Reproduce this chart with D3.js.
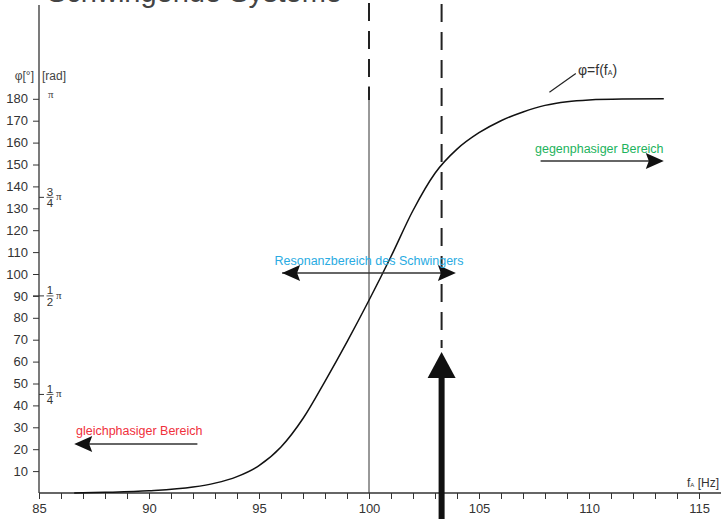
<!DOCTYPE html>
<html>
<head>
<meta charset="utf-8">
<script src="https://d3js.org/d3.v7.min.js"></script>
<style>
    body { margin: 0; background: #fff; }
    svg { display: block; font-family: "Liberation Sans", Arial, sans-serif; }
</style>
</head>
<body>
<div id="chart"></div>
<script>
// phase response
var freqHz   = [86.6, 88, 90, 92, 93, 94, 95, 96, 97, 98, 99, 100, 101, 102, 103, 104, 105, 106, 107, 108, 109, 110, 111.5, 113.4];
var phaseDeg = [0, 0.3, 1, 2.7, 4.5, 7.5, 12.5, 21, 34, 51, 69, 88, 108, 129, 146, 157, 164.5, 170, 174, 177, 178.7, 179.5, 179.9, 180];

var xTickValues = d3.range(85, 116, 1);
var xLabelValues = [85, 90, 95, 100, 105, 110, 115];
var yTickValues = [10, 20, 30, 40, 50, 60, 70, 80, 90, 100, 110, 120, 130, 140, 150, 160, 170, 180];
var radMarks = [
    { deg: 135, num: "3", den: "4" },
    { deg: 90, num: "1", den: "2" },
    { deg: 45, num: "1", den: "4" }
];

var f0 = 100;       // resonance
var fA = 103.3;     // excitation
var resonanceRange = [96.05, 103.95], resonancePhase = 100.5;
var gleichRange = [92.2, 86.6], gleichPhase = 22.4;
var gegenRange = [107.8, 113.4], gegenPhase = 151.6;

var W = 721, H = 519;
var svg = d3.select("#chart").append("svg").attr("width", W).attr("height", H);

var x = d3.scaleLinear().domain([85, 115]).range([39, 699]);
var y = d3.scaleLinear().domain([0, 180]).range([493, 98.8]);
var plotTop = 5;
var ink = "#333";

// title (cut at the top edge)
svg.append("text").attr("x", 47).attr("y", 2)
    .attr("font-size", 29).attr("fill", "#444")
    .text("Schwingende Systeme");

// x axis
var xAxis = svg.append("g").attr("transform", "translate(0," + y(0) + ")")
    .call(d3.axisBottom(x).tickValues(xTickValues).tickSize(6).tickPadding(5)
        .tickFormat(function (d) { return xLabelValues.indexOf(d) >= 0 ? d : ""; }));
xAxis.select(".domain").remove();
xAxis.selectAll("line").attr("stroke", ink);
xAxis.selectAll("text").attr("font-size", 13).attr("fill", ink).attr("font-family", null);
svg.append("line").attr("x1", x(85)).attr("x2", W).attr("y1", y(0)).attr("y2", y(0))
    .attr("stroke", ink).attr("stroke-width", 1.3);

// y axis
var yAxis = svg.append("g").attr("transform", "translate(" + x(85) + ",0)")
    .call(d3.axisLeft(y).tickValues(yTickValues).tickSize(6).tickPadding(5));
yAxis.select(".domain").remove();
yAxis.selectAll("line").attr("stroke", ink);
yAxis.selectAll("text").attr("font-size", 13).attr("fill", ink).attr("font-family", null);
svg.append("line").attr("x1", x(85)).attr("x2", x(85)).attr("y1", plotTop).attr("y2", y(0))
    .attr("stroke", ink).attr("stroke-width", 1.3);

svg.append("text").attr("x", 34).attr("y", 80).attr("text-anchor", "end")
    .attr("font-size", 12).attr("fill", "#444").text("φ[°]");
svg.append("text").attr("x", 42).attr("y", 80)
    .attr("font-size", 12).attr("fill", "#444").text("[rad]");
svg.append("text").attr("x", 48).attr("y", 98)
    .attr("font-size", 11).attr("font-family", "Liberation Serif, serif").attr("fill", "#444").text("π");

// radian fractions
var rad = svg.append("g").selectAll("g").data(radMarks).enter().append("g")
    .attr("transform", function (d) { return "translate(" + x(85) + "," + y(d.deg) + ")"; });
rad.append("line").attr("x1", function (d) { return d.deg === 90 ? -6 : 0; }).attr("x2", 5)
    .attr("stroke", ink);
rad.append("text").attr("x", 11).attr("y", -1.5).attr("text-anchor", "middle")
    .attr("font-size", 11.5).attr("fill", ink).text(function (d) { return d.num; });
rad.append("text").attr("x", 11).attr("y", 10).attr("text-anchor", "middle")
    .attr("font-size", 11.5).attr("fill", ink).text(function (d) { return d.den; });
rad.append("line").attr("x1", 7.5).attr("x2", 14.5).attr("stroke", ink).attr("stroke-width", 0.8);
rad.append("text").attr("x", 17).attr("y", 3)
    .attr("font-size", 11).attr("font-family", "Liberation Serif, serif").attr("fill", ink).text("π");

// resonance marker: thin line + dashes above
svg.append("line").attr("x1", x(f0)).attr("x2", x(f0)).attr("y1", 86).attr("y2", y(0))
    .attr("stroke", ink).attr("stroke-width", 1);
svg.append("line").attr("x1", x(f0)).attr("x2", x(f0)).attr("y1", 3).attr("y2", 100)
    .attr("stroke", "#222").attr("stroke-width", 2).attr("stroke-dasharray", "18,10");

// excitation frequency dashed line
svg.append("line").attr("x1", x(fA)).attr("x2", x(fA)).attr("y1", 4).attr("y2", 348)
    .attr("stroke", "#222").attr("stroke-width", 2).attr("stroke-dasharray", "18,10");

// phase curve
svg.append("path").datum(d3.zip(freqHz, phaseDeg))
    .attr("d", d3.line().x(function (d) { return x(d[0]); }).y(function (d) { return y(d[1]); })
        .curve(d3.curveMonotoneX))
    .attr("fill", "none").attr("stroke", "#111").attr("stroke-width", 1.5);

// curve label
svg.append("line").attr("x1", x(108.2)).attr("y1", y(183)).attr("x2", x(109.4)).attr("y2", y(191.5))
    .attr("stroke", "#222").attr("stroke-width", 1.2);
var lbl = svg.append("text").attr("x", 578).attr("y", 75).attr("font-size", 14).attr("fill", "#333");
lbl.append("tspan").text("φ=f(f");
lbl.append("tspan").attr("font-size", 7).text("A");
lbl.append("tspan").text(")");

// helper for arrows with filled heads
function arrowHead(tipX, tipY, dir, len, half) {
    // dir: 1 points right, -1 left
    var bx = tipX - dir * len;
    return "M" + tipX + "," + tipY + "L" + bx + "," + (tipY - half) +
        "L" + (bx + dir * 3) + "," + tipY + "L" + bx + "," + (tipY + half) + "Z";
}
function hArrow(f1, f2, deg, both) {
    var yy = y(deg);
    var dir = f2 > f1 ? 1 : -1;
    svg.append("line").attr("x1", x(f1)).attr("x2", x(f2) - dir * 6).attr("y1", yy).attr("y2", yy)
        .attr("stroke", ink).attr("stroke-width", 1.5);
    svg.append("path").attr("d", arrowHead(x(f2), yy, dir, 18, 8)).attr("fill", "#111");
    if (both) svg.append("path").attr("d", arrowHead(x(f1), yy, -dir, 18, 8)).attr("fill", "#111");
}

hArrow(resonanceRange[0], resonanceRange[1], resonancePhase, true);
svg.append("text").attr("x", x((resonanceRange[0] + resonanceRange[1]) / 2)).attr("y", 265)
    .attr("text-anchor", "middle").attr("font-size", 12.5).attr("fill", "#29abe2")
    .text("Resonanzbereich des Schwingers");

hArrow(gegenRange[0], gegenRange[1], gegenPhase, false);
svg.append("text").attr("x", 535).attr("y", 153).attr("font-size", 12.5).attr("fill", "#1db35d")
    .text("gegenphasiger Bereich");

hArrow(gleichRange[0], gleichRange[1], gleichPhase, false);
svg.append("text").attr("x", 76).attr("y", 435).attr("font-size", 12.5).attr("fill", "#f0303c")
    .text("gleichphasiger Bereich");

// big excitation arrow
var tipY = y(64.4), baseY = y(52.5);
svg.append("rect").attr("x", x(fA) - 3).attr("y", baseY - 1).attr("width", 6).attr("height", H - baseY + 2)
    .attr("fill", "#111");
svg.append("path").attr("d", "M" + x(fA) + "," + tipY + "L" + (x(fA) - 14) + "," + baseY +
    "L" + (x(fA) + 14) + "," + baseY + "Z").attr("fill", "#111");

// x axis unit
var xu = svg.append("text").attr("x", 687).attr("y", 487).attr("font-size", 12).attr("fill", ink);
xu.append("tspan").text("f");
xu.append("tspan").attr("font-size", 6).text("A");
xu.append("tspan").text(" [Hz]");
</script>
</body>
</html>
